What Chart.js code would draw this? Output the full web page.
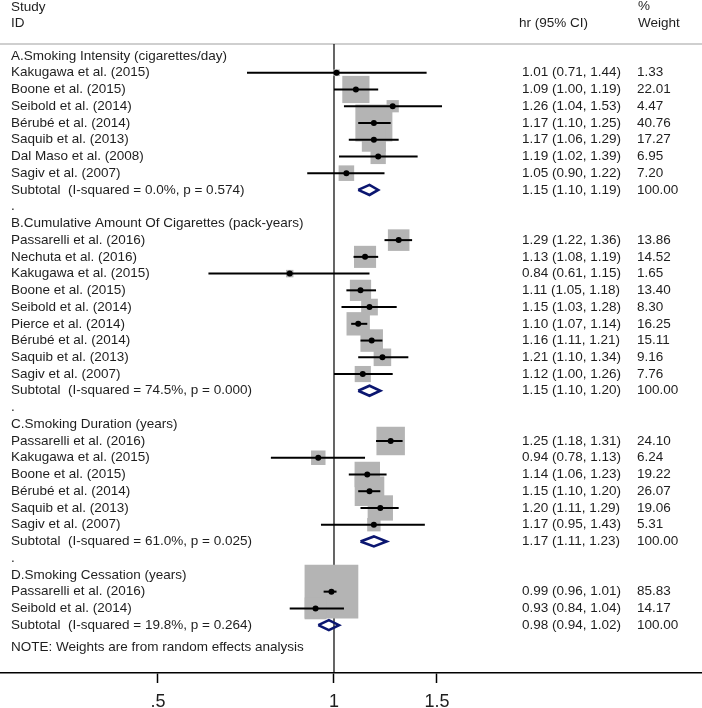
<!DOCTYPE html>
<html>
<head>
<meta charset="utf-8">
<script src="https://cdn.jsdelivr.net/npm/chart.js@4.4.0/dist/chart.umd.min.js"></script>
<style>
  body { margin: 0; background: #fff; }
  canvas { display: block; }
</style>
</head>
<body>
<canvas id="forest" width="702" height="708"></canvas>
<script>
// forest plot - hr by smoking measure

// rows, top to bottom
const rowLabels = [
  'A.Smoking Intensity (cigarettes/day)',
  'Kakugawa et al. (2015)', 'Boone et al. (2015)', 'Seibold et al. (2014)', 'Bérubé et al. (2014)',
  'Saquib et al. (2013)', 'Dal Maso et al. (2008)', 'Sagiv et al. (2007)',
  'Subtotal  (I-squared = 0.0%, p = 0.574)',
  '.',
  'B.Cumulative Amount Of Cigarettes (pack-years)',
  'Passarelli et al. (2016)', 'Nechuta et al. (2016)', 'Kakugawa et al. (2015)', 'Boone et al. (2015)',
  'Seibold et al. (2014)', 'Pierce et al. (2014)', 'Bérubé et al. (2014)', 'Saquib et al. (2013)',
  'Sagiv et al. (2007)',
  'Subtotal  (I-squared = 74.5%, p = 0.000)',
  '.',
  'C.Smoking Duration (years)',
  'Passarelli et al. (2016)', 'Kakugawa et al. (2015)', 'Boone et al. (2015)', 'Bérubé et al. (2014)',
  'Saquib et al. (2013)', 'Sagiv et al. (2007)',
  'Subtotal  (I-squared = 61.0%, p = 0.025)',
  '.',
  'D.Smoking Cessation (years)',
  'Passarelli et al. (2016)', 'Seibold et al. (2014)',
  'Subtotal  (I-squared = 19.8%, p = 0.264)'
];
// s = study, t = subtotal, h = heading, d = spacer
const rowKind = ['h','s','s','s','s','s','s','s','t','d',
  'h','s','s','s','s','s','s','s','s','s','t','d',
  'h','s','s','s','s','s','s','t','d',
  'h','s','s','t'];

const hr = [null,1.01,1.09,1.26,1.17,1.17,1.19,1.05,1.15,null,
  null,1.29,1.13,0.84,1.11,1.15,1.10,1.16,1.21,1.12,1.15,null,
  null,1.25,0.94,1.14,1.15,1.20,1.17,1.17,null,
  null,0.99,0.93,0.98];
const ciLow = [null,0.71,1.00,1.04,1.10,1.06,1.02,0.90,1.10,null,
  null,1.22,1.08,0.61,1.05,1.03,1.07,1.11,1.10,1.00,1.10,null,
  null,1.18,0.78,1.06,1.10,1.11,0.95,1.11,null,
  null,0.96,0.84,0.94];
const ciHigh = [null,1.44,1.19,1.53,1.25,1.29,1.39,1.22,1.19,null,
  null,1.36,1.19,1.15,1.18,1.28,1.14,1.21,1.34,1.26,1.20,null,
  null,1.31,1.13,1.23,1.20,1.29,1.43,1.23,null,
  null,1.01,1.04,1.02];
const weight = [null,1.33,22.01,4.47,40.76,17.27,6.95,7.20,100.00,null,
  null,13.86,14.52,1.65,13.40,8.30,16.25,15.11,9.16,7.76,100.00,null,
  null,24.10,6.24,19.22,26.07,19.06,5.31,100.00,null,
  null,85.83,14.17,100.00];

const noteText = 'NOTE: Weights are from random effects analysis';
const tickVals = [0.5, 1, 1.5];
const tickText = ['.5', '1', '1.5'];

// geometry (pixels / row units)
const X_MIN = 0.2685, X_MAX = 4.258;
const Y_MIN = -3.345, Y_MAX = 36.86;
const NOTE_ROW = 35.35;
const TOP_RULE = -0.717;
const FONT = '13.5px "Liberation Sans", Arial, sans-serif';
const INK = '#1e1e1e';

let fmt = (v) => v.toFixed(2);

let datasets = [];

// vertical null line and top rule
datasets.push({ type:'line', data:[{x:1,y:TOP_RULE},{x:1,y:Y_MAX}], borderColor:'#000', borderWidth:1.2, pointRadius:0, order:5 });
datasets.push({ type:'line', data:[{x:X_MIN,y:TOP_RULE},{x:X_MAX,y:TOP_RULE}], borderColor:'#cfcfcf', borderWidth:2, pointRadius:0, order:5 });

// weight boxes
let boxPts = [], boxR = [];
let dotPts = [];
rowKind.forEach((k, i) => {
  if (k !== 's') return;
  boxPts.push({x: hr[i], y: i});
  boxR.push(4.1 * Math.sqrt(weight[i]));
  dotPts.push({x: hr[i], y: i});
});
datasets.push({ type:'scatter', data: boxPts, pointStyle:'rect', pointRadius: boxR, pointHoverRadius: boxR,
  backgroundColor:'#b4b4b4', borderWidth:0, order:4 });

// ci lines
rowKind.forEach((k, i) => {
  if (k !== 's') return;
  datasets.push({ type:'line', data:[{x:ciLow[i],y:i},{x:ciHigh[i],y:i}], borderColor:'#000', borderWidth:2, pointRadius:0, order:3 });
});

// point estimates
datasets.push({ type:'scatter', data: dotPts, pointStyle:'circle', pointRadius:3, backgroundColor:'#000', borderWidth:0, order:2 });

// subtotal diamonds
rowKind.forEach((k, i) => {
  if (k !== 't') return;
  let h = 0.3;
  datasets.push({ type:'line', data:[
      {x:ciLow[i],y:i},{x:hr[i],y:i-h},{x:ciHigh[i],y:i},{x:hr[i],y:i+h},{x:ciLow[i],y:i}
    ], borderColor:'#0b1670', borderWidth:2.6, pointRadius:0, fill:false, tension:0, order:1 });
});

// text columns
const textPlugin = {
  id: 'forestText',
  afterDraw(chart) {
    let ctx = chart.ctx;
    let ys = chart.scales.y;
    ctx.save();
    ctx.font = FONT;
    ctx.fillStyle = INK;
    ctx.textBaseline = 'middle';
    ctx.textAlign = 'left';
    // header
    ctx.fillText('Study', 11, 7);
    ctx.fillText('ID', 11, 23);
    ctx.fillText('hr (95% CI)', 519, 23);
    ctx.fillText('%', 638, 6);
    ctx.fillText('Weight', 638, 23);

    rowLabels.forEach((lab, i) => {
      let y = ys.getPixelForValue(i);
      ctx.fillText(lab, 11, y);
      if (hr[i] != null) {
        ctx.fillText(fmt(hr[i]) + ' (' + fmt(ciLow[i]) + ', ' + fmt(ciHigh[i]) + ')', 522, y);
        ctx.fillText(fmt(weight[i]), 637, y);
      }
    });
    ctx.fillText(noteText, 11, ys.getPixelForValue(NOTE_ROW));
    ctx.restore();
  }
};

new Chart(document.getElementById('forest'), {
  type: 'scatter',
  data: { datasets: datasets },
  options: {
    responsive: false,
    animation: false,
    events: [],
    layout: { padding: 0, autoPadding: false },
    plugins: { legend: { display:false }, tooltip: { enabled:false } },
    scales: {
      x: {
        type: 'logarithmic',
        min: X_MIN, max: X_MAX,
        bounds: 'data',
        afterBuildTicks: (axis) => { axis.ticks = tickVals.map(v => ({value: v})); },
        afterFit: (axis) => { axis.height = 35; },
        ticks: {
          autoSkip: false, maxRotation: 0, padding: 8,
          color: INK,
          font: { family: '"Liberation Sans", Arial, sans-serif', size: 18 },
          callback: (v, i) => tickText[i]
        },
        grid: { drawOnChartArea: false, color: '#000', tickLength: 10, tickWidth: 1.5 },
        border: { color: '#000', width: 1.5 }
      },
      y: {
        type: 'linear', reverse: true, min: Y_MIN, max: Y_MAX,
        display: false
      }
    }
  },
  plugins: [textPlugin]
});
</script>
</body>
</html>
